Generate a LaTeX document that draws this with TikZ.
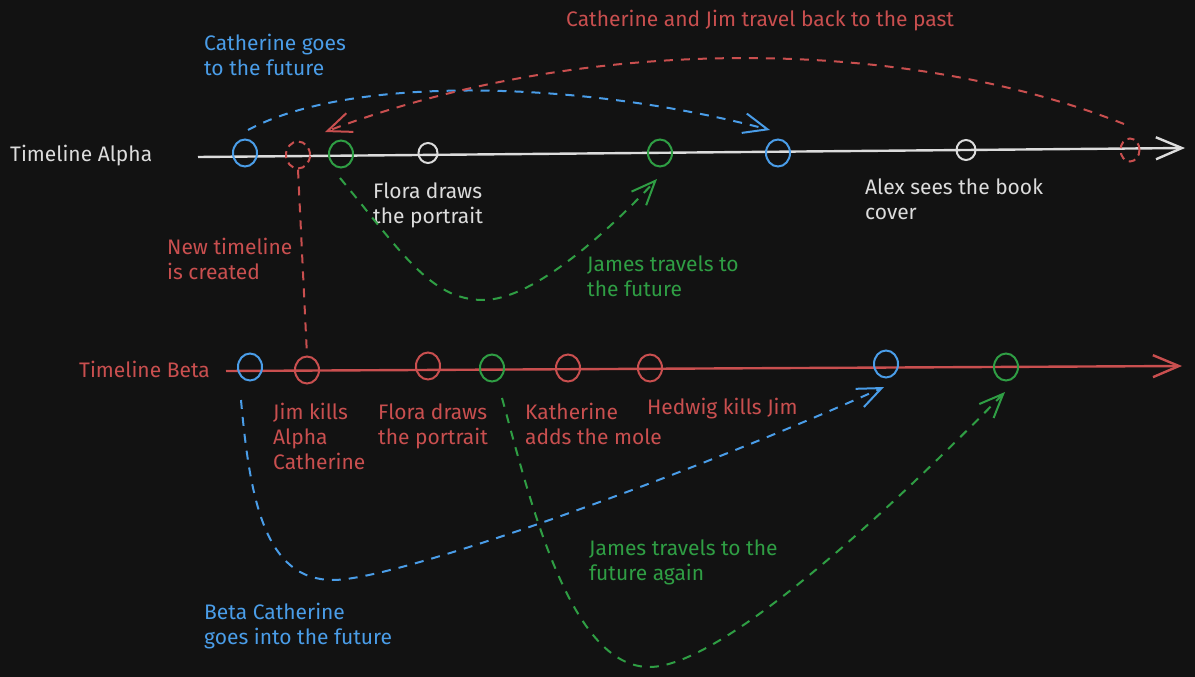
\documentclass[tikz,border=0pt]{standalone}
\usepackage{fontspec}
\setmainfont{Fira Sans}
\usetikzlibrary{arrows.meta, shapes.geometric}
\usepackage{xcolor}
\definecolor{tlbg}{HTML}{121212}
\definecolor{tlwhite}{HTML}{DCDCDC}
\definecolor{tlred}{HTML}{C94F4F}
\definecolor{tlblue}{HTML}{4A9DE8}
\definecolor{tlgreen}{HTML}{2F9E44}

\begin{document}
\begin{tikzpicture}[
    x=1pt, y=-1pt,
    font=\fontsize{21}{25}\selectfont,
    event/.style={draw=#1, ellipse, line width=2pt, minimum width=24pt, minimum height=27pt, inner sep=0pt},
    ghost/.style={event=#1, dash pattern=on 7pt off 5pt},
    note/.style={text=#1, align=left, anchor=base west, inner sep=0pt},
    axis/.style={-{Straight Barb[length=26pt, width=22pt, line width=2.4pt]}, line width=2.4pt, color=#1},
    hop/.style={-{Straight Barb[length=24pt, width=20pt, line width=2pt]}, line width=2pt, dash pattern=on 9pt off 8pt, color=#1},
]
\useasboundingbox[fill=tlbg] (0,0) rectangle (1195,677);

\coordinate (alpha0) at (198,157);
\coordinate (alpha1) at (1185,148);
\coordinate (beta0) at (226,371);
\coordinate (beta1) at (1182,366);
\draw[axis=tlwhite] (alpha0) -- (alpha1);
\draw[axis=tlred] (beta0) -- (beta1);

\node[note=tlwhite] (alphaname) at (10,161) {Timeline Alpha};
\node[note=tlred] (betaname) at (79,377) {Timeline Beta};

\node[event=tlblue] (acatgo) at (245,153) {};
\node[ghost=tlred] (aback) at (298,155) {};
\node[event=tlgreen] (ajamesgo) at (341,154) {};
\node[event=tlwhite, minimum width=19pt, minimum height=20pt] (aflora) at (428,153) {};
\node[event=tlgreen] (ajamesin) at (660,153) {};
\node[event=tlblue] (acatin) at (778,153) {};
\node[event=tlwhite, minimum width=19pt, minimum height=20pt] (aalex) at (966,150) {};
\node[ghost=tlred, minimum width=19pt, minimum height=23pt] (aleave) at (1130,150) {};

\node[event=tlblue] (bcatgo) at (250,367) {};
\node[event=tlred] (bkill) at (307,370) {};
\node[event=tlred] (bflora) at (428,366) {};
\node[event=tlgreen] (bjamesgo) at (492,368) {};
\node[event=tlred] (bmole) at (568,368) {};
\node[event=tlred] (bhedwig) at (650,368) {};
\node[event=tlblue] (bcatin) at (886,364) {};
\node[event=tlgreen] (bjamesin) at (1006,367) {};

\node[note=tlblue] (catgonote) at (204,76) {Catherine goes\\to the future};
\node[note=tlred] (backnote) at (566,27) {Catherine and Jim travel back to the past};
\node[note=tlwhite] (afloranote) at (373,223) {Flora draws\\the portrait};
\node[note=tlwhite] (alexnote) at (865,219) {Alex sees the book\\cover};
\node[note=tlred] (newnote) at (167,279) {New timeline\\is created};
\node[note=tlgreen] (jamesnote) at (587,296) {James travels to\\the future};
\node[note=tlred] (killnote) at (273,469) {Jim kills\\Alpha\\Catherine};
\node[note=tlred] (bfloranote) at (378,444) {Flora draws\\the portrait};
\node[note=tlred] (molenote) at (525,444) {Katherine\\adds the mole};
\node[note=tlred] (hedwignote) at (647,414) {Hedwig kills Jim};
\node[note=tlgreen] (againnote) at (589,580) {James travels to the\\future again};
\node[note=tlblue] (bcatnote) at (204,644) {Beta Catherine\\goes into the future};

\draw[hop=tlblue] ([shift={(3,-23)}]acatgo.center) .. controls (350,75) and (580,80) .. ([shift={(-8,-23)}]acatin.center);
\draw[hop=tlred] ([shift={(-6,-26)}]aleave.center) .. controls (900,35) and (580,35) .. ([shift={(27,-23)}]aback.center);
\draw[hop=tlgreen] ([shift={(-1,24)}]ajamesgo.center) .. controls (400,250) and (430,300) .. (483,300)
    .. controls (530,300) and (600,240) .. ([shift={(-3,26)}]ajamesin.center);
\draw[tlred, line width=2pt, dash pattern=on 9pt off 8pt] (aback.south) -- (bkill.north);
\draw[hop=tlblue] ([shift={(-9,33)}]bcatgo.center) .. controls (250,500) and (265,580) .. (333,580)
    .. controls (400,580) and (700,470) .. ([shift={(-2,23)}]bcatin.center);
\draw[hop=tlgreen] ([shift={(10,30)}]bjamesgo.center) .. controls (530,500) and (570,668) .. (650,667)
    .. controls (720,666) and (880,520) .. ([shift={(-1,25)}]bjamesin.center);
\end{tikzpicture}
\end{document}
